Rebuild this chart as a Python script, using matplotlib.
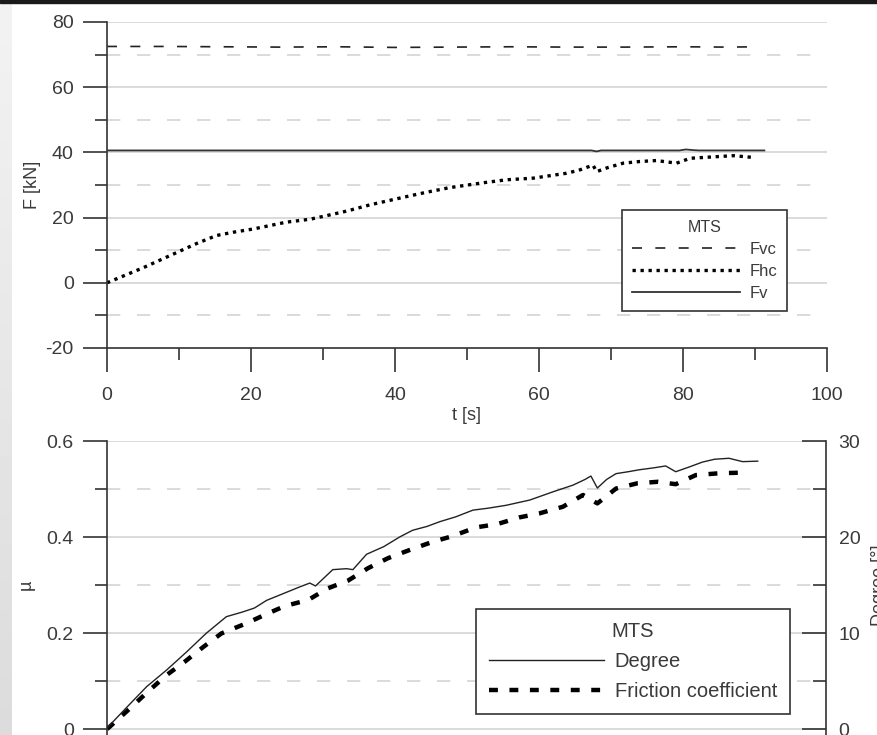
import numpy as np
import matplotlib
matplotlib.use("Agg")
import matplotlib.pyplot as plt
from matplotlib.patches import Rectangle

plt.rcParams['font.family'] = ['Liberation Sans', 'DejaVu Sans']
plt.rcParams['axes.unicode_minus'] = False

# ---- top chart: forces ----
t_fvc = [0, 8, 16, 24, 32, 40, 48, 56, 64, 72, 80, 86, 90.6]
fvc = [72.5, 72.5, 72.4, 72.3, 72.4, 72.2, 72.3, 72.4, 72.3, 72.3, 72.4, 72.3, 72.4]

t_fv = [0, 67.3, 68.0, 68.6, 79.5, 80.4, 81.4, 82.2, 91.3]
fv = [40.6, 40.6, 40.3, 40.6, 40.6, 40.9, 40.7, 40.6, 40.6]

t_fhc = [0, 2.5, 5.0, 7.5, 10.1, 12.5, 15.2, 17.5, 20.3, 22.5, 24.9, 28.2, 30.5,
         33.3, 36.5, 40.7, 44.0, 47.6, 52.3, 55.5, 59.2, 63.8, 65.5, 67.5, 68.0,
         69.5, 71.7, 74.0, 76.3, 79.1, 81.0, 84.0, 87.0, 90.0]
fhc = [0, 2.3, 4.6, 7.1, 9.7, 12.1, 14.5, 15.5, 16.5, 17.5, 18.6, 19.5, 20.6,
       22.0, 23.9, 26.0, 27.6, 29.2, 30.7, 31.6, 32.1, 33.6, 34.5, 36.1, 34.1,
       35.3, 36.7, 37.2, 37.5, 36.7, 38.2, 38.6, 39.0, 38.4]

# ---- bottom chart: friction coefficient and degree ----
t_mu = [0, 0.4, 3.2, 5.7, 8.3, 10.8, 13.4, 15.9, 19.2, 21.9, 24.7, 28.0, 30.7,
        33.5, 36.3, 39.1, 42.1, 45.3, 48.1, 51.3, 54.3, 57.4, 60.1, 63.4, 66.2,
        68.2, 70.8, 73.8, 76.6, 79.1, 81.9, 85.3, 88.4]
mu = [0, 0.005, 0.043, 0.078, 0.1125, 0.140, 0.171, 0.199, 0.219, 0.2375, 0.256,
      0.269, 0.293, 0.309, 0.335, 0.356, 0.373, 0.390, 0.402, 0.420, 0.427, 0.441,
      0.449, 0.463, 0.4875, 0.470, 0.501, 0.512, 0.515, 0.510, 0.529, 0.533, 0.534]

t_deg = [0, 2.8, 5.5, 8.3, 11.1, 13.8, 16.6, 18.9, 20.5, 22.2, 24.5, 26.8, 28.2,
         29.0, 31.4, 33.3, 34.2, 36.1, 38.5, 40.7, 42.5, 44.5, 46.3, 48.5, 50.9,
         53.0, 55.5, 58.8, 62.0, 64.8, 66.5, 67.3, 68.2, 69.5, 70.8, 72.5, 74.0,
         76.0, 77.7, 79.1, 81.0, 82.8, 84.5, 86.5, 88.4, 90.5]
deg = [0.1, 2.3, 4.4, 6.15, 8.05, 9.97, 11.7, 12.2, 12.6, 13.4, 14.1, 14.8, 15.2,
       14.9, 16.6, 16.7, 16.6, 18.2, 19.0, 20.0, 20.7, 21.1, 21.6, 22.1, 22.8,
       23.0, 23.3, 23.85, 24.7, 25.4, 26.0, 26.35, 25.1, 26.0, 26.6, 26.8, 27.0,
       27.2, 27.4, 26.8, 27.3, 27.8, 28.1, 28.2, 27.85, 27.9]

W, H = 877, 735
fig = plt.figure(figsize=(W / 100, H / 100), dpi=100)

# screenshot frame: gray strip on the left, dark bar on top
strip = fig.add_axes([0, 0, 12 / W, 1])
strip.imshow(np.linspace(0.95, 0.86, 100).reshape(-1, 1), cmap='gray', vmin=0, vmax=1,
             aspect='auto', extent=[0, 1, 0, 1])
strip.axis('off')
fig.patches.append(Rectangle((0, 1 - 3 / H), 1, 3 / H, transform=fig.transFigure,
                             color='#1a1a1a', zorder=5))

grid_c = '#d4d4d4'
txt_c = '#3a3a3a'
ax_c = '#333333'


def style_axes(ax):
    for s in ['top', 'right']:
        ax.spines[s].set_visible(False)
    for s in ['left', 'bottom']:
        ax.spines[s].set_color(ax_c)
        ax.spines[s].set_linewidth(1.2)
    ax.tick_params(which='major', length=17, width=1.2, color=ax_c, labelsize=14,
                   labelcolor=txt_c)
    ax.tick_params(which='minor', length=8.5, width=1.2, color=ax_c)
    ax.tick_params(axis='y', which='major', pad=7)
    ax.tick_params(axis='x', which='major', pad=11)


def style_legend(leg):
    leg.get_frame().set_linewidth(1.2)
    for tx in leg.get_texts():
        tx.set_color(txt_c)
    leg.get_title().set_color(txt_c)


# top axes
ax1 = fig.add_axes([107 / W, 1 - 348 / H, 720 / W, 326 / H])
style_axes(ax1)
ax1.set_xlim(0, 100)
ax1.set_ylim(-20, 80)
ax1.set_xticks(np.arange(0, 101, 20))
ax1.set_xticks(np.arange(10, 100, 20), minor=True)
ax1.set_yticks(np.arange(-20, 81, 20))
ax1.set_yticks(np.arange(-10, 80, 20), minor=True)
for v in np.arange(0, 81, 20):
    ax1.axhline(v, color=grid_c, lw=1.2, zorder=0)
for v in np.arange(-10, 80, 20):
    ax1.axhline(v, color=grid_c, lw=1.2, dashes=(8, 10), zorder=0)

l_fvc, = ax1.plot(t_fvc, fvc, color='#222222', lw=1.2, dashes=(6, 8), label='Fvc')
l_fhc, = ax1.plot(t_fhc, fhc, color='black', lw=2.4, dashes=(1.0, 1.4),
                  label='Fhc')
l_fv, = ax1.plot(t_fv, fv, color='#333333', lw=1.3, label='Fv')
ax1.set_xlabel('t [s]', fontsize=13, color=txt_c, labelpad=2)
ax1.set_ylabel('F [kN]', fontsize=13, color=txt_c, labelpad=3)

leg1 = ax1.legend(handles=[l_fvc, l_fhc, l_fv], title='MTS', loc='upper left',
                  bbox_to_anchor=(0.715, 0.423), fontsize=12, title_fontsize=11.5,
                  handlelength=6.5, handletextpad=0.55, labelspacing=0.42,
                  borderpad=0.6, fancybox=False, framealpha=1, edgecolor=ax_c,
                  borderaxespad=0)
style_legend(leg1)

# bottom axes (the x axis lies below the screenshot's edge)
ax2 = fig.add_axes([107 / W, 1 - 777 / H, 719 / W, 336 / H])
style_axes(ax2)
ax2.spines['bottom'].set_visible(False)
ax2.set_xlim(0, 100)
ax2.set_ylim(-0.1, 0.6)
ax2.set_yticks([0, 0.2, 0.4, 0.6])
ax2.set_yticklabels(['0', '0.2', '0.4', '0.6'])
ax2.set_yticks([0.1, 0.3, 0.5], minor=True)
ax2.set_xticks([])
for v in [0, 0.2, 0.4, 0.6]:
    ax2.axhline(v, color=grid_c, lw=1.2, zorder=0)
for v in [0.1, 0.3, 0.5]:
    ax2.axhline(v, color=grid_c, lw=1.2, dashes=(8, 10), zorder=0)
l_mu, = ax2.plot(t_mu, mu, color='black', lw=3.2, dashes=(2.0, 2.6),
                 label='Friction coefficient')
ax2.set_ylabel('\u00b5', fontsize=13, color=txt_c, labelpad=4)
ax2.yaxis.set_label_coords(-0.1, 0.5 + 0.05 / 0.7)

ax3 = ax2.twinx()
ax3.set_ylim(-5, 30)
ax3.set_xlim(0, 100)
for s in ['top', 'left', 'bottom']:
    ax3.spines[s].set_visible(False)
ax3.spines['right'].set_color(ax_c)
ax3.spines['right'].set_linewidth(1.2)
ax3.set_yticks([0, 10, 20, 30])
ax3.set_yticks([5, 15, 25], minor=True)
ax3.tick_params(which='major', direction='in', length=17, width=1.2, color=ax_c,
                labelsize=14, labelcolor=txt_c, pad=9)
ax3.tick_params(which='minor', direction='in', length=9.5, width=1.2, color=ax_c)
l_deg, = ax3.plot(t_deg, deg, color='#222222', lw=1.0, label='Degree')
ax3.set_ylabel('Degree [\u00b0]', fontsize=13, color=txt_c, labelpad=10)
ax3.yaxis.set_label_coords(1.062, 0.5 + 0.05 / 0.7)

leg2 = ax3.legend(handles=[l_deg, l_mu], title='MTS', loc='upper left',
                  bbox_to_anchor=(0.513, (777 - 609) / 336), fontsize=14.5,
                  title_fontsize=14.5, handlelength=5.7, handletextpad=0.55,
                  labelspacing=0.55, borderpad=0.65, fancybox=False, framealpha=1,
                  edgecolor=ax_c, borderaxespad=0)
leg2.get_frame().set_facecolor((1, 1, 1, 0))
style_legend(leg2)

fig.savefig('out.png', dpi=100)
